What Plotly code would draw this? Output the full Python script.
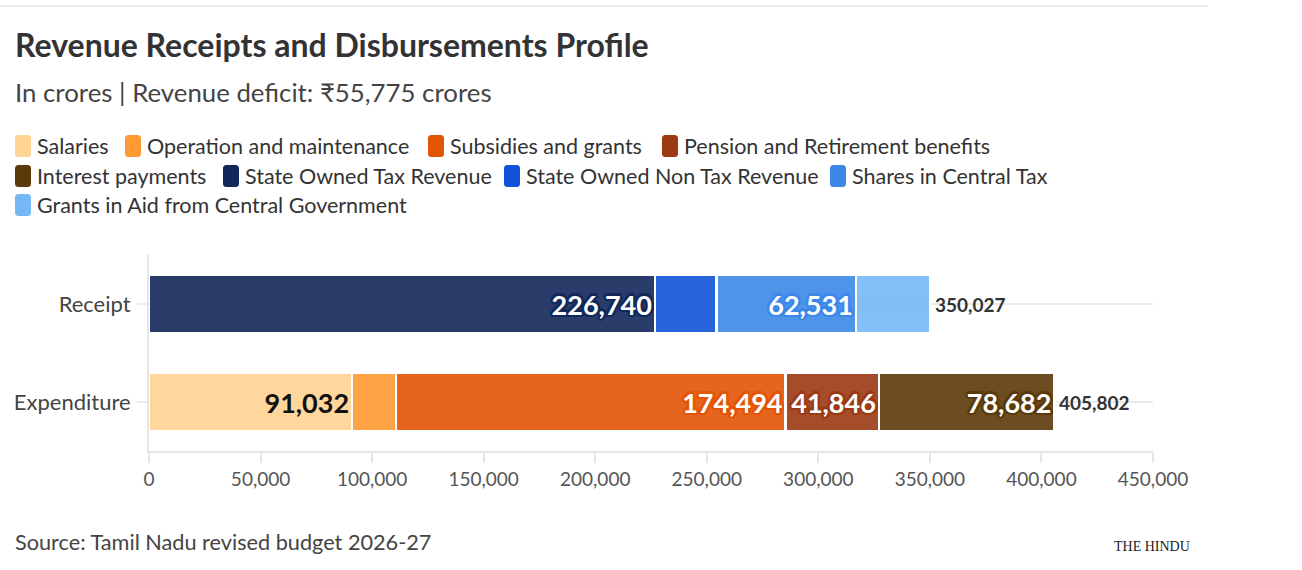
import plotly.graph_objects as go

# ---------------- data ----------------
categories = ["Receipt", "Expenditure"]

series_names = [
    "Salaries",
    "Operation and maintenance",
    "Subsidies and grants",
    "Pension and Retirement benefits",
    "Interest payments",
    "State Owned Tax Revenue",
    "State Owned Non Tax Revenue",
    "Shares in Central Tax",
    "Grants in Aid from Central Government",
]

# values per category: [Receipt, Expenditure]
salaries = [None, 91032]
operation_maintenance = [None, 19748]
subsidies_grants = [None, 174494]
pension_retirement = [None, 41846]
interest_payments = [None, 78682]
state_tax_revenue = [226740, None]
state_non_tax_revenue = [27545, None]
shares_central_tax = [62531, None]
grants_in_aid = [33211, None]

series_values = [
    salaries, operation_maintenance, subsidies_grants, pension_retirement,
    interest_payments, state_tax_revenue, state_non_tax_revenue,
    shares_central_tax, grants_in_aid,
]

x_tick_values = [0, 50000, 100000, 150000, 200000, 250000, 300000, 350000, 400000, 450000]

subtitle = "In crores | Revenue deficit: ₹55,775 crores"
title = "Revenue Receipts and Disbursements Profile"
source = "Source: Tamil Nadu revised budget 2026-27"

# ---------------- style ----------------
colors = ["#FFD392", "#FF9933", "#E35405", "#9B3A13", "#5B3A09",
          "#13285A", "#1252D8", "#3C88E9", "#76B7F5"]
label_colors = ["#111111", "#ffffff", "#ffffff", "#ffffff", "#ffffff",
                "#ffffff", "#ffffff", "#ffffff", "#ffffff"]
halo_flags = [False, True, True, True, True, True, True, True, True]

FONT = "Lato, 'Noto Sans', sans-serif"
W, H = 1302, 570
PL, PR, PT, PB = 149, 1153, 255, 451  # plot area in pixels


def X(p):
    return (p - PL) / (PR - PL)


def Y(p):
    return (PB - p) / (PB - PT)


def rgba(h, a):
    h = h.lstrip("#")
    return "rgba(%d,%d,%d,%.2f)" % (int(h[0:2], 16), int(h[2:4], 16), int(h[4:6], 16), a)


def halo(c, r=2.5):
    offs = [(r, 0), (-r, 0), (0, r), (0, -r), (r * 0.7, r * 0.7), (-r * 0.7, -r * 0.7),
            (r * 0.7, -r * 0.7), (-r * 0.7, r * 0.7),
            (r * 0.4, r * 0.9), (-r * 0.4, r * 0.9), (r * 0.9, r * 0.4), (-r * 0.9, -r * 0.4),
            (r * 0.4, -r * 0.9), (-r * 0.4, -r * 0.9), (r * 0.9, -r * 0.4), (-r * 0.9, r * 0.4)]
    return ", ".join("%.1fpx %.1fpx 0 %s" % (a, b, c) for a, b in offs)


fig = go.Figure()

for name, vals, col, lc, hf in zip(series_names, series_values, colors, label_colors, halo_flags):
    texts = [("{:,}".format(v) if (v is not None and v >= 40000) else "") for v in vals]
    fig.add_trace(go.Bar(
        name=name,
        y=categories,
        x=vals,
        orientation="h",
        marker=dict(color=rgba(col, 0.9), line=dict(color="#ffffff", width=2.5)),
        text=texts,
        texttemplate="%{text}",
        textposition="inside",
        insidetextanchor="end",
        textangle=0,
        textfont=dict(family=FONT, size=27, color=lc, weight=700,
                      shadow=(halo(col) if hf else "none")),
        cliponaxis=False,
        hoverinfo="skip",
    ))

annotations = []
shapes = []

# totals at end of stacks
for i, cat in enumerate(categories):
    total = sum(v[i] for v in series_values if v[i] is not None)
    annotations.append(dict(
        x=total, y=cat, xref="x", yref="y", text="<b>{:,}</b>".format(total),
        showarrow=False, xanchor="left", yanchor="middle", xshift=3,
        font=dict(family=FONT, size=19, color="#333333"),
    ))

# title, subtitle, source
annotations.append(dict(x=X(13), y=Y(44), xref="paper", yref="paper", text="<b>%s</b>" % title,
                        showarrow=False, xanchor="left", yanchor="middle",
                        font=dict(family=FONT, size=32, color="#333333")))
annotations.append(dict(x=X(13), y=Y(92), xref="paper", yref="paper", text=subtitle,
                        showarrow=False, xanchor="left", yanchor="middle",
                        font=dict(family=FONT, size=25.8, color="#444444")))
annotations.append(dict(x=X(13), y=Y(542), xref="paper", yref="paper", text=source,
                        showarrow=False, xanchor="left", yanchor="middle",
                        font=dict(family=FONT, size=21.7, color="#444444")))
annotations.append(dict(x=X(1152), y=Y(546), xref="paper", yref="paper", text="THE HINDU",
                        showarrow=False, xanchor="center", yanchor="middle",
                        font=dict(family="'Liberation Serif', 'DejaVu Serif', serif", size=14, color="#222222")))

# custom legend
legend_pos = [(15, 146), (125, 146), (428, 146), (662, 146),
              (15, 176), (223, 176), (504, 176), (830, 176),
              (15, 205)]


def rounded_path(x0, y0, x1, y1, r):
    pts = []
    pts.append("M %f,%f" % (X(x0 + r), Y(y0)))
    pts.append("L %f,%f" % (X(x1 - r), Y(y0)))
    pts.append("Q %f,%f %f,%f" % (X(x1), Y(y0), X(x1), Y(y0 + r)))
    pts.append("L %f,%f" % (X(x1), Y(y1 - r)))
    pts.append("Q %f,%f %f,%f" % (X(x1), Y(y1), X(x1 - r), Y(y1)))
    pts.append("L %f,%f" % (X(x0 + r), Y(y1)))
    pts.append("Q %f,%f %f,%f" % (X(x0), Y(y1), X(x0), Y(y1 - r)))
    pts.append("L %f,%f" % (X(x0), Y(y0 + r)))
    pts.append("Q %f,%f %f,%f" % (X(x0), Y(y0), X(x0 + r), Y(y0)))
    pts.append("Z")
    return " ".join(pts)


for (sx, sy), name, col in zip(legend_pos, series_names, colors):
    shapes.append(dict(type="path", xref="paper", yref="paper",
                       path=rounded_path(sx, sy - 11, sx + 16, sy + 11, 3.5),
                       fillcolor=col, line=dict(width=0), layer="above"))
    annotations.append(dict(x=X(sx + 19.5), y=Y(sy), xref="paper", yref="paper", text=name,
                            showarrow=False, xanchor="left", yanchor="middle",
                            font=dict(family=FONT, size=21.5, color="#333333")))

# top border line
shapes.append(dict(type="line", xref="paper", yref="paper", x0=X(0), x1=X(1208), y0=Y(6), y1=Y(6),
                   line=dict(color="#e6e6e6", width=1.5)))

fig.update_layout(
    width=W, height=H,
    margin=dict(l=PL, r=W - PR, t=PT, b=H - PB, pad=0),
    barmode="stack",
    bargap=0.413,
    showlegend=False,
    paper_bgcolor="#ffffff",
    plot_bgcolor="#ffffff",
    font=dict(family=FONT, color="#444444"),
    annotations=annotations,
    shapes=shapes,
    xaxis=dict(
        range=[0, 450000], tickvals=x_tick_values, tickformat=",d",
        showgrid=False, zeroline=False,
        showline=True, linecolor="#e6e6e6", linewidth=2,
        ticks="outside", ticklen=10, tickwidth=2, tickcolor="#e6e6e6",
        tickfont=dict(family=FONT, size=19, color="#555555"),
        fixedrange=True,
    ),
    yaxis=dict(
        categoryorder="array", categoryarray=categories[::-1],
        showgrid=True, gridcolor="#ebebeb", gridwidth=2,
        showline=True, linecolor="#e6e6e6", linewidth=2,
        ticks="outside", ticklen=10, tickwidth=2, tickcolor="#ebebeb",
        ticklabelstandoff=2,
        tickfont=dict(family=FONT, size=22, color="#444444"),
        zeroline=False, fixedrange=True,
    ),
)

fig.write_html("out.html", config={"displayModeBar": False},
               post_script="document.body.style.margin='0';")
